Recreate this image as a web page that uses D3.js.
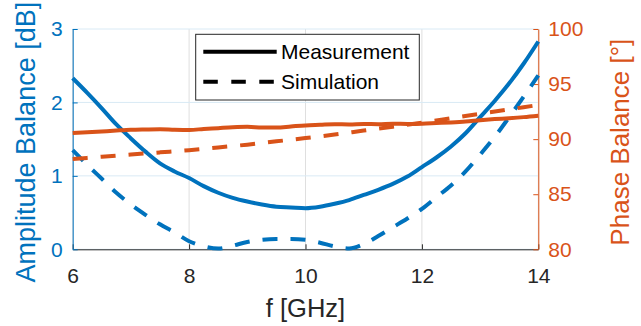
<!DOCTYPE html>
<html>
<head>
<meta charset="utf-8">
<script src="https://cdn.jsdelivr.net/npm/d3@7"></script>
<style>
  html, body { margin: 0; padding: 0; background: #fff; }
  svg { display: block; font-family: "Liberation Sans", Arial, Helvetica, sans-serif; }
</style>
</head>
<body>
<svg id="chart" width="641" height="326"></svg>
<script>
// amplitude / phase balance vs frequency, two y axes (MATLAB yyaxis look)

const xTicks = [6, 8, 10, 12, 14];
const ampTicks = [0, 1, 2, 3];
const phaseTicks = [80, 85, 90, 95, 100];

// measured amplitude balance [dB]
const ampMeasF = [6, 6.25, 6.5, 6.75, 7, 7.25, 7.5, 7.75, 8, 8.25, 8.5, 8.75, 9, 9.25, 9.5, 9.75, 10,
  10.25, 10.5, 10.75, 11, 11.25, 11.5, 11.75, 12, 12.25, 12.5, 12.75, 13, 13.25, 13.5, 13.75, 14];
const ampMeas = [2.33, 2.13, 1.92, 1.70, 1.51, 1.33, 1.17, 1.06, 0.97, 0.86, 0.77, 0.70, 0.65, 0.61, 0.58, 0.57, 0.56,
  0.58, 0.62, 0.67, 0.74, 0.81, 0.89, 0.99, 1.12, 1.25, 1.40, 1.58, 1.80, 2.02, 2.26, 2.53, 2.83];

// simulated amplitude balance [dB]
const ampSimF = ampMeasF;
const ampSim = [1.35, 1.15, 0.96, 0.77, 0.61, 0.47, 0.34, 0.23, 0.11, 0.04, 0.01, 0.05, 0.10, 0.13, 0.14, 0.14, 0.13,
  0.09, 0.04, 0.01, 0.07, 0.18, 0.30, 0.42, 0.55, 0.71, 0.87, 1.06, 1.29, 1.53, 1.80, 2.08, 2.37];

// measured phase balance [deg]
const phaseMeasF = ampMeasF;
const phaseMeas = [90.55, 90.62, 90.70, 90.78, 90.85, 90.88, 90.90, 90.86, 90.84, 90.92, 91.00, 91.08, 91.12, 91.06, 91.05, 91.15, 91.25,
  91.30, 91.35, 91.34, 91.38, 91.36, 91.40, 91.38, 91.40, 91.46, 91.52, 91.60, 91.72, 91.82, 91.90, 92.00, 92.13];

// simulated phase balance [deg]
const phaseSimF = [6, 6.5, 7, 7.5, 8, 8.5, 9, 9.5, 10, 10.5, 11, 11.5, 12, 12.5, 13, 13.5, 14];
const phaseSim = [88.2, 88.4, 88.6, 88.8, 89.0, 89.25, 89.5, 89.8, 90.1, 90.42, 90.78, 91.13, 91.5, 91.9, 92.3, 92.7, 93.1];

const legendLabels = ['Measurement', 'Simulation'];

const BLUE = '#0072BD';
const ORANGE = '#D95319';
const DARK = '#262626';
const DASH = '15,13';

const svg = d3.select('#chart');
const L = 72.7, R = 538.3, T = 29, B = 249.3;

const x = d3.scaleLinear().domain([6, 14]).range([L, R]);
const yL = d3.scaleLinear().domain([0, 3]).range([B, T]);
const yR = d3.scaleLinear().domain([80, 100]).range([B, T]);

// grid
svg.append('g').selectAll('line')
  .data(xTicks).enter().append('line')
  .attr('x1', d => x(d)).attr('x2', d => x(d))
  .attr('y1', T).attr('y2', B)
  .attr('stroke', '#dfdfdf').attr('stroke-width', 1);
svg.append('g').selectAll('line')
  .data(ampTicks).enter().append('line')
  .attr('x1', L).attr('x2', R)
  .attr('y1', d => yL(d)).attr('y2', d => yL(d))
  .attr('stroke', '#d9eaf5').attr('stroke-width', 1);

// axes
function styleAxis(g, color) {
  g.select('.domain').attr('stroke', color).attr('stroke-width', 1);
  g.selectAll('.tick line').attr('stroke', color);
  g.selectAll('.tick text').attr('fill', color).attr('font-size', 21)
    .attr('font-family', '"Liberation Sans", Arial, sans-serif');
}

const gx = svg.append('g').attr('transform', `translate(0,${B})`)
  .call(d3.axisBottom(x).tickValues(xTicks).tickFormat(d3.format('d'))
    .tickSizeInner(-5).tickSizeOuter(0).tickPadding(19));
styleAxis(gx, DARK);

const gl = svg.append('g').attr('transform', `translate(${L},0)`)
  .call(d3.axisLeft(yL).tickValues(ampTicks).tickFormat(d3.format('d'))
    .tickSizeInner(-5).tickSizeOuter(0).tickPadding(10));
styleAxis(gl, BLUE);

const gr = svg.append('g').attr('transform', `translate(${R},0)`)
  .call(d3.axisRight(yR).tickValues(phaseTicks).tickFormat(d3.format('d'))
    .tickSizeInner(-5).tickSizeOuter(0).tickPadding(10));
styleAxis(gr, ORANGE);

// curves
svg.append('defs').append('clipPath').attr('id', 'plotclip')
  .append('rect').attr('x', L - 3).attr('y', T - 3).attr('width', R - L + 6).attr('height', B - T + 5);

const plot = svg.append('g').attr('clip-path', 'url(#plotclip)');

function curve(fs, vs, yScale, color, dashed) {
  const pts = fs.map((f, i) => [x(f), yScale(vs[i])]);
  plot.append('path')
    .attr('d', d3.line().curve(d3.curveMonotoneX)(pts))
    .attr('fill', 'none')
    .attr('stroke', color)
    .attr('stroke-width', 4)
    .attr('stroke-dasharray', dashed ? DASH : null);
}

curve(ampMeasF, ampMeas, yL, BLUE, false);
curve(ampSimF, ampSim, yL, BLUE, true);
curve(phaseMeasF, phaseMeas, yR, ORANGE, false);
curve(phaseSimF, phaseSim, yR, ORANGE, true);

// axis labels
svg.append('text')
  .attr('transform', `translate(35,${(T + B) / 2 + 3}) rotate(-90)`)
  .attr('text-anchor', 'middle')
  .attr('font-size', 27)
  .attr('fill', BLUE)
  .text('Amplitude Balance [dB]');

svg.append('text')
  .attr('transform', `translate(629,${(T + B) / 2 + 3}) rotate(-90)`)
  .attr('text-anchor', 'middle')
  .attr('font-size', 26)
  .attr('fill', ORANGE)
  .text('Phase Balance [°]');

svg.append('text')
  .attr('x', (L + R) / 2).attr('y', 317)
  .attr('text-anchor', 'middle')
  .attr('font-size', 25.5)
  .attr('fill', DARK)
  .text('f [GHz]');

// legend
const leg = svg.append('g');
leg.append('rect')
  .attr('x', 195.7).attr('y', 34.3).attr('width', 223.6).attr('height', 65.7)
  .attr('fill', '#fff').attr('stroke', DARK).attr('stroke-width', 1);

legendLabels.forEach((lab, i) => {
  const yy = 51.7 + i * 30;
  leg.append('line')
    .attr('x1', 203.3).attr('x2', 276.7)
    .attr('y1', yy).attr('y2', yy)
    .attr('stroke', '#000').attr('stroke-width', 4)
    .attr('stroke-dasharray', i === 1 ? '14.5,13.5' : null);
  leg.append('text')
    .attr('x', 281).attr('y', yy + 7.6)
    .attr('font-size', 21)
    .attr('fill', '#000')
    .text(lab);
});
</script>
</body>
</html>
